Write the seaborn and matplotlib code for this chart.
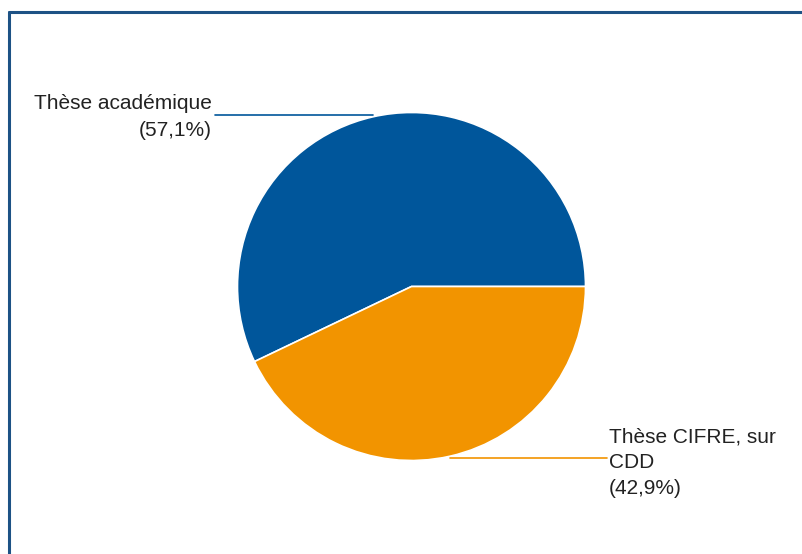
import numpy as np
import matplotlib
matplotlib.use("Agg")
import matplotlib.pyplot as plt
import seaborn as sns
from matplotlib.lines import Line2D

# data
categories = ["Thèse académique", "Thèse CIFRE, sur\nCDD"]
shares = [57.1, 42.9]
pct_labels = ["(57,1%)", "(42,9%)"]
colors = ["#00569b", "#f29400"]

sns.set_theme(style="white")
plt.rcParams['font.family'] = ['Liberation Sans', 'DejaVu Sans']

W, H = 803, 554
fig = plt.figure(figsize=(W / 100, H / 100), dpi=100)
ax = fig.add_axes([0, 0, 1, 1])

cx, cy, r = 411.5, H - 286.5, 174
wedges, _ = ax.pie(shares, colors=colors, startangle=0, counterclock=True,
                   center=(cx, cy), radius=r, frame=True,
                   wedgeprops=dict(edgecolor='white', linewidth=1.2))
ax.set_xlim(0, W)
ax.set_ylim(0, H)
ax.set_aspect('equal')
ax.axis('off')

# leader lines + labels
for i, w in enumerate(wedges):
    mid = np.deg2rad((w.theta1 + w.theta2) / 2)
    px = cx + r * np.cos(mid)
    py = cy + r * np.sin(mid) + (2 if np.sin(mid) > 0 else -2)
    label = categories[i] + "\n" + pct_labels[i]
    if np.cos(mid) < 0:
        x_end = 215
        ax.plot([px, x_end], [py, py], color=colors[i], lw=1.2)
        ax.text(x_end - 3, py - 2, label, ha='right', va='center',
                fontsize=15, color='#222222', multialignment='right',
                linespacing=1.55)
    else:
        x_end = 607
        ax.plot([px, x_end], [py, py], color=colors[i], lw=1.2)
        ax.text(x_end + 2, py - 4.5, label, ha='left', va='center',
                fontsize=15, color='#222222', multialignment='left',
                linespacing=1.45)

# outer frame (left and top edges only)
fig.add_artist(Line2D([9 / W, 9 / W], [0, 1 - 12 / H], color='#1d5285', lw=2.2,
                      transform=fig.transFigure))
fig.add_artist(Line2D([9 / W, 1], [1 - 12 / H, 1 - 12 / H], color='#1d5285', lw=2.2,
                      transform=fig.transFigure))

fig.savefig("out.png", dpi=100, facecolor='white')
